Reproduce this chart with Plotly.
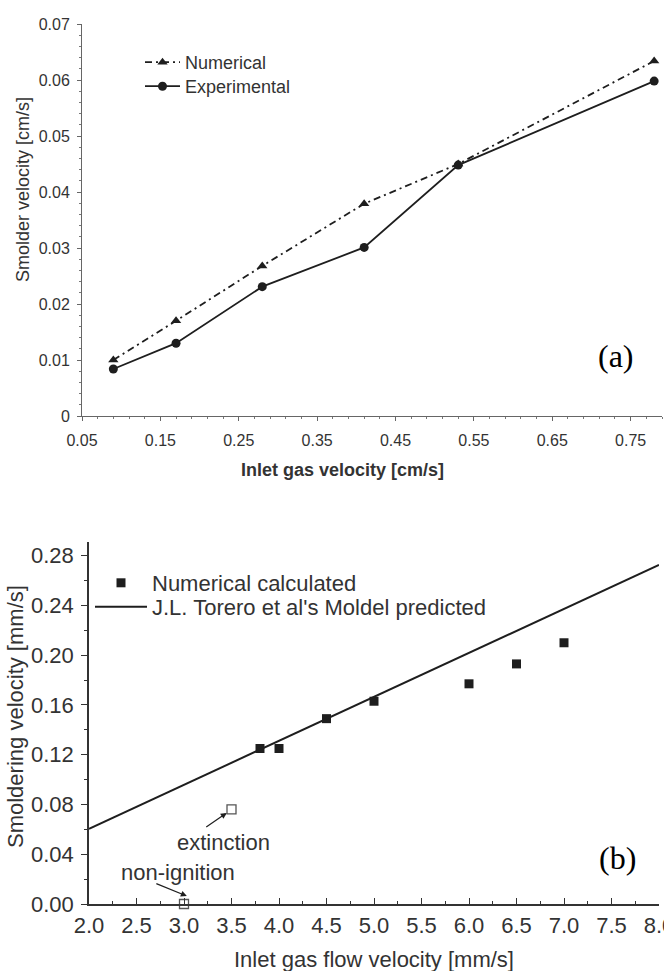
import plotly.graph_objects as go

W, H = 664, 971


def px(x):
    return x / W


def py(y):
    return 1 - y / H


# ---------------- data: panel (a) ----------------
inlet_a = [0.09, 0.17, 0.28, 0.41, 0.53, 0.78]
numerical_a = [0.0100, 0.0170, 0.0268, 0.0379, 0.0450, 0.0634]
experimental_a = [0.0084, 0.0130, 0.0231, 0.0301, 0.0448, 0.0598]

# ---------------- data: panel (b) ----------------
inlet_b = [3.8, 4.0, 4.5, 5.0, 6.0, 6.5, 7.0]
numerical_b = [0.125, 0.125, 0.149, 0.163, 0.177, 0.193, 0.210]
open_x = [3.0, 3.5]          # non-ignition, extinction
open_y = [0.0, 0.076]
model_x = [2.0, 8.0]
model_y = [0.0605, 0.2725]

SANS = "Liberation Sans, Arial, sans-serif"
SERIF = "Liberation Serif, Times New Roman, serif"
INK = "#1e1e1e"
TXT = "#333333"

fig = go.Figure()

# panel (a)
fig.add_trace(go.Scatter(
    x=inlet_a, y=numerical_a, name="Numerical", mode="lines+markers",
    line=dict(color=INK, width=1.8, dash="7px,4px,2px,4px"),
    marker=dict(symbol="triangle-up", size=9, color=INK),
    xaxis="x", yaxis="y", legend="legend", cliponaxis=False))
fig.add_trace(go.Scatter(
    x=inlet_a, y=experimental_a, name="Experimental", mode="lines+markers",
    line=dict(color=INK, width=1.8),
    marker=dict(symbol="circle", size=9, color=INK),
    xaxis="x", yaxis="y", legend="legend3", cliponaxis=False))

# panel (b)
fig.add_trace(go.Scatter(
    x=inlet_b, y=numerical_b, name="Numerical calculated", mode="markers",
    marker=dict(symbol="square", size=9, color=INK),
    xaxis="x2", yaxis="y2", legend="legend2", cliponaxis=False))
fig.add_trace(go.Scatter(
    x=model_x, y=model_y, name="J.L. Torero et al's Moldel predicted", mode="lines",
    line=dict(color=INK, width=2),
    xaxis="x2", yaxis="y2", legend="legend4"))
fig.add_trace(go.Scatter(
    x=open_x, y=open_y, mode="markers", showlegend=False,
    marker=dict(symbol="square-open", size=9, color="#555555", line=dict(width=1.3)),
    xaxis="x2", yaxis="y2", cliponaxis=False))

axis_common = dict(showgrid=False, zeroline=False, showline=True)


def leg(x, y, size, w):
    return dict(x=px(x), y=py(y), xanchor="left", yanchor="top",
                font=dict(size=size, color=TXT), itemwidth=w,
                bgcolor="rgba(0,0,0,0)", tracegroupgap=0)


layout = dict(
    width=W, height=H, margin=dict(l=0, r=0, t=0, b=0),
    paper_bgcolor="white", plot_bgcolor="white",
    template="none",
    font=dict(family=SANS, color=TXT),
    # ---- (a) ----
    xaxis=dict(**axis_common, domain=[px(82), px(662)], range=[0.05, 0.79], anchor="y",
               tick0=0.05, dtick=0.1, ticks="outside", ticklen=4, tickwidth=1,
               tickcolor="#666", linecolor="#666", linewidth=1,
               tickfont=dict(size=16, color=TXT), ticklabelstandoff=6,
               minor=dict(dtick=0.02, tick0=0.05, ticks="outside", ticklen=2, tickcolor="#777")),
    yaxis=dict(**axis_common, domain=[py(416), py(24)], range=[0, 0.07], anchor="x",
               dtick=0.01, ticks="outside", ticklen=4, tickwidth=1,
               tickcolor="#666", linecolor="#666", linewidth=1,
               tickfont=dict(size=16, color=TXT), ticklabelstandoff=4,
               minor=dict(dtick=0.002, ticks="outside", ticklen=2, tickcolor="#777")),
    xaxis3=dict(showgrid=False, zeroline=False, showline=False, overlaying="x", anchor="y",
                side="bottom", range=[0.05, 0.79], tick0=0.05, dtick=0.1, ticks="inside",
                ticklen=4, tickcolor="#666", showticklabels=False,
                minor=dict(dtick=0.02, tick0=0.05, ticks="inside", ticklen=2, tickcolor="#777")),
    yaxis3=dict(showgrid=False, zeroline=False, showline=False, overlaying="y", anchor="x",
                side="left", range=[0, 0.07], dtick=0.01, ticks="inside", ticklen=4,
                tickcolor="#666", showticklabels=False,
                minor=dict(dtick=0.002, ticks="inside", ticklen=2, tickcolor="#777")),
    # ---- (b) ----
    xaxis2=dict(**axis_common, domain=[px(89), px(659)], range=[2, 8], anchor="y2",
                dtick=0.5, tickformat=".1f", ticks="inside", ticklen=6, tickwidth=1.3,
                tickcolor="#333", linecolor="#333", linewidth=1.5,
                tickfont=dict(size=22, color=TXT), ticklabelstandoff=1,
                ticklabeloverflow="allow",
                minor=dict(dtick=0.25, ticks="inside", ticklen=3, tickcolor="#333")),
    yaxis2=dict(**axis_common, domain=[py(904), py(542)], range=[0, 0.291], anchor="x2",
                dtick=0.04, tickformat=".2f", ticks="outside", ticklen=6, tickwidth=1.3,
                tickcolor="#333", linecolor="#333", linewidth=1.5,
                tickfont=dict(size=22, color=TXT), ticklabelstandoff=3,
                minor=dict(dtick=0.02, ticks="outside", ticklen=3, tickcolor="#333")),
    xaxis4=dict(showgrid=False, zeroline=False, showline=True, overlaying="x2", anchor="y2",
                side="top", range=[2, 8], dtick=0.5, ticks="inside", ticklen=6, tickwidth=1.3,
                tickcolor="#333", linecolor="#333", linewidth=1.5, showticklabels=False,
                minor=dict(dtick=0.25, ticks="inside", ticklen=3, tickcolor="#333")),
    yaxis4=dict(showgrid=False, zeroline=False, showline=True, overlaying="y2", anchor="x2",
                side="right", range=[0, 0.291], dtick=0.04, ticks="inside", ticklen=6,
                tickwidth=1.3, tickcolor="#333", linecolor="#333", linewidth=1.5,
                showticklabels=False,
                minor=dict(dtick=0.02, ticks="inside", ticklen=3, tickcolor="#333")),
    legend=leg(140, 44, 18, 35),
    legend3=leg(140, 68, 18, 35),
    legend2=leg(90, 562, 22, 52),
    legend4=leg(90, 586, 22, 52),
)
fig.update_layout(**layout)

ann = []


def label(text, x, y, size, angle=0, family=SANS, color=TXT):
    return dict(text=text, x=px(x), y=py(y), xref="paper", yref="paper",
                xanchor="center", yanchor="middle", showarrow=False, textangle=angle,
                font=dict(size=size, family=family, color=color))


# axis titles (a)
ann.append(label("<b>Inlet gas velocity [cm/s]</b>", 342, 470, 18))
ann.append(label("Smolder velocity [cm/s]", 23, 190, 18, angle=-90))
# axis titles (b)
ann.append(label("Inlet gas flow velocity [mm/s]", 374, 959, 22))
ann.append(label("Smoldering velocity [mm/s]", 15, 717, 22, angle=-90))
# panel labels
ann.append(label("(a)", 616, 356, 32, family=SERIF, color="black"))
ann.append(label("(b)", 617, 858, 32, family=SERIF, color="black"))
# callouts
ann.append(label("extinction", 224, 842, 22))
ann.append(label("non-ignition", 178, 872, 22))
ann.append(dict(text="", x=3.45, y=0.0732, xref="x2", yref="y2", showarrow=True,
                ax=-22, ay=15, arrowhead=2, arrowsize=1, arrowwidth=1.2, arrowcolor=INK))
ann.append(dict(text="", x=3.03, y=0.0064, xref="x2", yref="y2", showarrow=True,
                ax=-32, ay=-13, arrowhead=2, arrowsize=1, arrowwidth=1.2, arrowcolor=INK))
fig.update_layout(annotations=ann)

fig.write_html("out.html")
